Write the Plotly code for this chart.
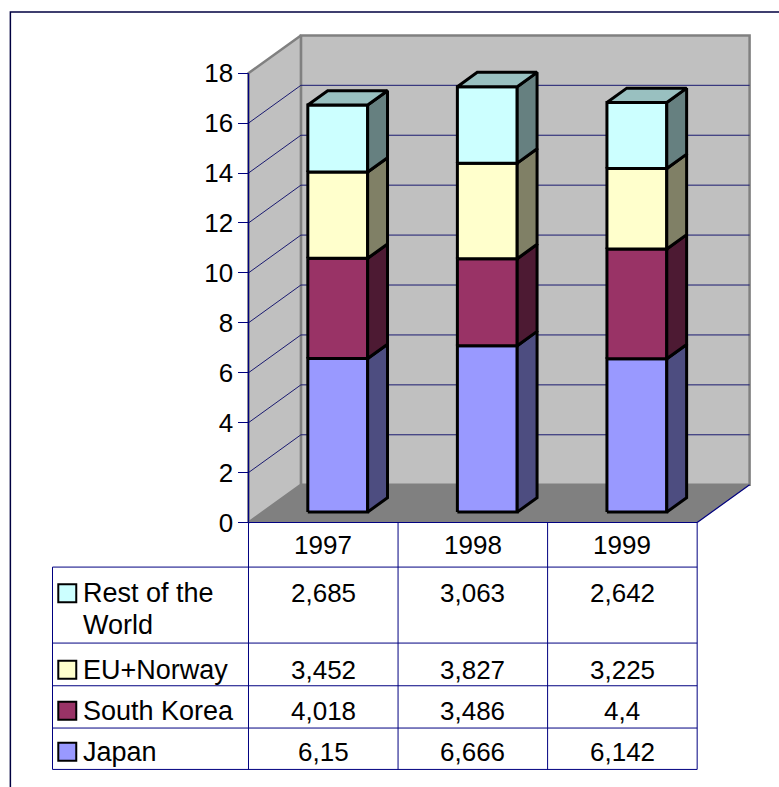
import plotly.graph_objects as go

# ---------------- data ----------------
years = ["1997", "1998", "1999"]
series_names = ["Japan", "South Korea", "EU+Norway", "Rest of the World"]
japan = [6.15, 6.666, 6.142]
south_korea = [4.018, 3.486, 4.4]
eu_norway = [3.452, 3.827, 3.225]
rest_world = [2.685, 3.063, 2.642]
y_ticks = [0, 2, 4, 6, 8, 10, 12, 14, 16, 18]

series_values = [japan, south_korea, eu_norway, rest_world]
front_colors = ["#9999FF", "#993366", "#FFFFCC", "#CCFFFF"]
side_colors = ["#4D4D80", "#4D1A33", "#808066", "#668080"]
top_colors = ["#7373BF", "#732640", "#BFBF99", "#99C0C0"]

# ---------------- geometry ----------------
W, H = 779, 787
PX_X = 149.8          # pixels per category
PX_Y = 24.97          # pixels per value unit
X0_PX, Y0_PX = 248.0, 522.7   # pixel of (category 0, value 0) on the front plane
DX, DY = 0.3505, 1.514        # full depth offset in data units
F0, F1 = 0.276, 0.655         # bar front / back depth fraction
BAR_W = 0.4
YMAX = 18

XR = [-0.03, 3.38]
YR = [-0.1, 19.65]
L = X0_PX + XR[0] * PX_X
PW = (XR[1] - XR[0]) * PX_X
B = H - (Y0_PX - YR[0] * PX_Y)
PH = (YR[1] - YR[0]) * PX_Y
T = H - B - PH
R = W - L - PW


def px_to_paper_x(px):
    return (px - L) / PW


def px_to_paper_y(py):
    return (H - B - py) / PH


def data_x_to_paper(xd):
    return (xd - XR[0]) / (XR[1] - XR[0])


def data_y_to_paper(yd):
    return (yd - YR[0]) / (YR[1] - YR[0])


def proj(x, v, d):
    return x + d * DX, v + d * DY


def poly(points, fill, line_color, line_width, name="", hover=None):
    xs, ys = [], []
    for (x, v, d) in points:
        px, py = proj(x, v, d)
        xs.append(px)
        ys.append(py)
    xs.append(xs[0])
    ys.append(ys[0])
    return go.Scatter(
        x=xs, y=ys, mode="lines", fill="toself", fillcolor=fill,
        line=dict(color=line_color, width=line_width),
        name=name, showlegend=False,
        hoverinfo="text" if hover else "skip", text=hover,
    )


fig = go.Figure()
ncat = len(years)

# walls and floor
fig.add_trace(poly([(0, 0, 1), (ncat, 0, 1), (ncat, YMAX, 1), (0, YMAX, 1)],
                   "#C0C0C0", "#808080", 2.5))
fig.add_trace(poly([(0, 0, 0), (0, 0, 1), (0, YMAX, 1), (0, YMAX, 0)],
                   "#C0C0C0", "#808080", 2.5))
fig.add_trace(poly([(0, 0, 0), (ncat, 0, 0), (ncat, 0, 1), (0, 0, 1)],
                   "#808080", "#808080", 0.5))

# gridlines
gx, gy = [], []
for v in y_ticks[1:-1]:
    for (a, b) in [((0, v, 1), (ncat, v, 1)), ((0, v, 0), (0, v, 1))]:
        p1 = proj(*a)
        p2 = proj(*b)
        gx += [p1[0], p2[0], None]
        gy += [p1[1], p2[1], None]
fig.add_trace(go.Scatter(x=gx, y=gy, mode="lines", line=dict(color="#1A1A70", width=1),
                         hoverinfo="skip", showlegend=False))

# axis line, floor front edge and floor right edge
ex, ey = [], []
for (a, b) in [((0, 0, 0), (0, YMAX, 0)), ((0, 0, 0), (ncat, 0, 0)), ((ncat, 0, 0), (ncat, 0, 1))]:
    p1 = proj(*a)
    p2 = proj(*b)
    ex += [p1[0], p2[0], None]
    ey += [p1[1], p2[1], None]
fig.add_trace(go.Scatter(x=ex, y=ey, mode="lines", line=dict(color="#000080", width=1.2),
                         hoverinfo="skip", showlegend=False))

# bars
for i in range(ncat):
    base = 0.0
    x0 = i + 0.5 - BAR_W / 2
    x1 = i + 0.5 + BAR_W / 2
    for s, vals in enumerate(series_values):
        top = base + vals[i]
        hover = f"{series_names[s]} {years[i]}: {vals[i]}"
        fig.add_trace(poly([(x0, base, F0), (x1, base, F0), (x1, top, F0), (x0, top, F0)],
                           front_colors[s], "#000000", 3, series_names[s], hover))
        fig.add_trace(poly([(x1, base, F0), (x1, base, F1), (x1, top, F1), (x1, top, F0)],
                           side_colors[s], "#000000", 3, series_names[s], hover))
        if s == len(series_values) - 1:
            fig.add_trace(poly([(x0, top, F0), (x1, top, F0), (x1, top, F1), (x0, top, F1)],
                               top_colors[s], "#000000", 3, series_names[s], hover))
        base = top

# ---------------- data table ----------------
FONT = "Liberation Sans, Arial, sans-serif"
FS = 26
FS_LABEL = 27
GRID = "#000080"
TABLE_LEFT_PX = 51.7
TABLE_BOTTOM_PX = 769.7
HEADER_BOTTOM_PX = 567.3
row_bounds_px = [567.3, 643.3, 686.0, 728.3, 769.7]
row_text_px = [593.5, 670.0, 711.0, 752.0]      # cap centres of row text
TEXT_SHIFT = 0.0
row_order = [3, 2, 1, 0]                          # Rest, EU, SK, Japan

shapes = []
for yb in row_bounds_px:
    shapes.append(dict(type="line", xref="paper", yref="paper",
                       x0=px_to_paper_x(TABLE_LEFT_PX), x1=data_x_to_paper(ncat),
                       y0=px_to_paper_y(yb), y1=px_to_paper_y(yb),
                       line=dict(color=GRID, width=1)))
for c in range(ncat + 1):
    shapes.append(dict(type="line", xref="paper", yref="paper",
                       x0=data_x_to_paper(c), x1=data_x_to_paper(c),
                       y0=data_y_to_paper(0), y1=px_to_paper_y(TABLE_BOTTOM_PX),
                       line=dict(color=GRID, width=1)))
shapes.append(dict(type="line", xref="paper", yref="paper",
                   x0=px_to_paper_x(TABLE_LEFT_PX), x1=px_to_paper_x(TABLE_LEFT_PX),
                   y0=px_to_paper_y(HEADER_BOTTOM_PX), y1=px_to_paper_y(TABLE_BOTTOM_PX),
                   line=dict(color=GRID, width=1)))

# legend keys
KEY = 18
KEY_X_PX = 57.5
for r, s in enumerate(row_order):
    cy = row_text_px[r]
    shapes.append(dict(type="rect", xref="paper", yref="paper",
                       x0=px_to_paper_x(KEY_X_PX), x1=px_to_paper_x(KEY_X_PX + KEY),
                       y0=px_to_paper_y(cy - KEY / 2), y1=px_to_paper_y(cy + KEY / 2),
                       fillcolor=front_colors[s], line=dict(color="#000000", width=2)))

# outer chart border
shapes.append(dict(type="rect", xref="paper", yref="paper",
                   x0=px_to_paper_x(9.5), x1=px_to_paper_x(W + 20),
                   y0=px_to_paper_y(H + 20), y1=px_to_paper_y(12),
                   line=dict(color="#000040", width=1.5), fillcolor="rgba(0,0,0,0)"))

annotations = []
HEADER_TEXT_PX = 545.3
for c, yr in enumerate(years):
    annotations.append(dict(text=yr, xref="paper", yref="paper",
                            x=data_x_to_paper(c + 0.5), y=px_to_paper_y(HEADER_TEXT_PX + TEXT_SHIFT),
                            xanchor="center", yanchor="middle", showarrow=False,
                            font=dict(family=FONT, size=FS, color="#000000")))

label_lines = {3: ["Rest of the", "World"], 2: ["EU+Norway"], 1: ["South Korea"], 0: ["Japan"]}
LINE_GAP = 31.6
LABEL_X_PX = 80.0
for r, s in enumerate(row_order):
    cy = row_text_px[r]
    for k, line in enumerate(label_lines[s]):
        annotations.append(dict(text=line, xref="paper", yref="paper",
                                x=px_to_paper_x(LABEL_X_PX), y=px_to_paper_y(cy + k * LINE_GAP + TEXT_SHIFT),
                                xanchor="left", yanchor="middle", showarrow=False,
                                font=dict(family=FONT, size=FS_LABEL, color="#000000")))
    for c in range(ncat):
        txt = f"{series_values[s][c]:g}".replace(".", ",")
        annotations.append(dict(text=txt, xref="paper", yref="paper",
                                x=data_x_to_paper(c + 0.5), y=px_to_paper_y(cy + TEXT_SHIFT),
                                xanchor="center", yanchor="middle", showarrow=False,
                                font=dict(family=FONT, size=FS, color="#000000")))

fig.update_layout(
    width=W, height=H,
    margin=dict(l=L, r=R, t=T, b=B, pad=0),
    paper_bgcolor="#FFFFFF", plot_bgcolor="rgba(0,0,0,0)",
    showlegend=False,
    xaxis=dict(range=XR, visible=False, fixedrange=True),
    yaxis=dict(range=YR, anchor="free", position=data_x_to_paper(0),
               tickvals=y_ticks, ticktext=[str(t) for t in y_ticks],
               ticks="outside", ticklen=10, tickwidth=1, tickcolor="#000080",
               showgrid=False, zeroline=False, showline=False, fixedrange=True,
               tickfont=dict(family=FONT, size=FS, color="#000000")),
    shapes=shapes,
    annotations=annotations,
    font=dict(family=FONT, size=FS, color="#000000"),
)

fig.write_html("out.html")
